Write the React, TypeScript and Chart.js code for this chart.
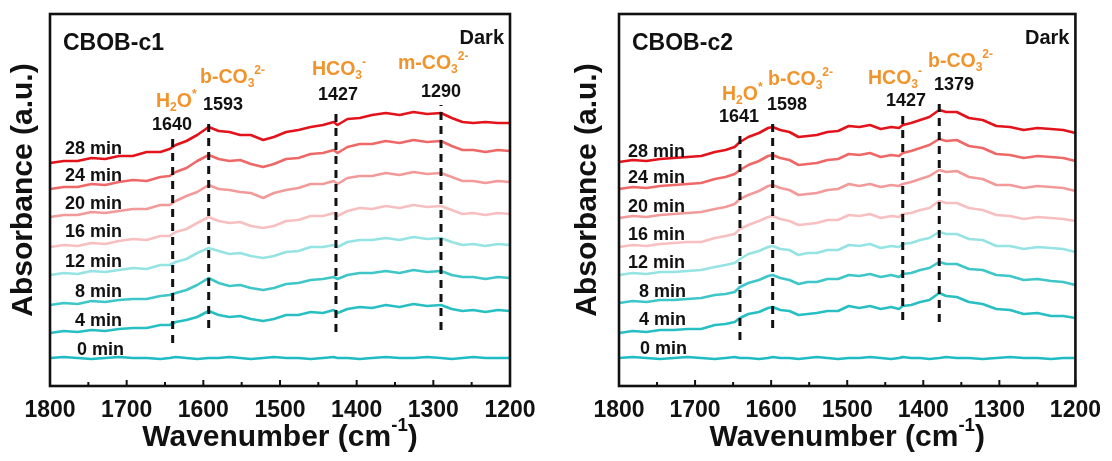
import React, { useEffect, useRef } from "react";
import { Chart, registerables } from "chart.js";

Chart.register(...registerables);

const FONT = '"Liberation Sans", Arial, Helvetica, sans-serif';
const ORANGE = "#f0952e";
const INK = "#111111";

// Spectra series, oldest first
const TIMES = ["0 min", "4 min", "8 min", "12 min", "16 min", "20 min", "24 min", "28 min"];
const COLORS = ["#20bcc4", "#28bfc3", "#3ec6c8", "#95e3e3", "#f7bfbf", "#f29a9a", "#ee6868", "#e3131b"];

// ---- CBOB-c1 ----
const C1_WAVENUMBER = [1800, 1782, 1764, 1746, 1728, 1710, 1692, 1674, 1656, 1644, 1636, 1622, 1608, 1593, 1580, 1566, 1552, 1538, 1522, 1508, 1492, 1476, 1460, 1444, 1430, 1425, 1412, 1396, 1380, 1362, 1344, 1326, 1308, 1290, 1276, 1262, 1248, 1232, 1216, 1200];
const C1_0 = [28, 29, 28, 27, 28, 29, 28, 28, 27, 28, 29, 28, 27, 28, 28, 29, 28, 27, 28, 29, 28, 28, 27, 28, 29, 28, 28, 27, 28, 29, 28, 28, 29, 28, 27, 28, 29, 28, 28, 28];
const C1_4 = [53, 55, 54, 56, 55, 57, 58, 58, 61, 61, 64, 66, 69, 75, 71, 69, 70, 67, 65, 67, 71, 71, 74, 73, 76, 73, 77, 79, 78, 81, 79, 82, 80, 81, 77, 75, 76, 74, 76, 75];
const C1_8 = [81, 83, 82, 85, 84, 86, 87, 87, 90, 91, 93, 96, 101, 108, 103, 100, 101, 98, 96, 98, 102, 103, 106, 107, 109, 107, 111, 113, 113, 115, 113, 116, 114, 115, 111, 109, 109, 107, 109, 108];
const C1_12 = [111, 113, 112, 115, 114, 116, 118, 117, 121, 121, 124, 127, 133, 138, 135, 132, 133, 130, 128, 130, 134, 135, 139, 139, 141, 139, 144, 146, 146, 148, 146, 149, 147, 148, 144, 141, 142, 140, 142, 141];
const C1_16 = [139, 141, 140, 143, 142, 145, 147, 146, 150, 150, 154, 157, 163, 169, 165, 163, 164, 160, 158, 160, 165, 166, 170, 170, 173, 170, 175, 178, 177, 180, 178, 181, 179, 180, 176, 172, 173, 171, 173, 172];
const C1_20 = [169, 171, 171, 174, 173, 175, 177, 177, 181, 181, 185, 190, 194, 201, 197, 196, 194, 193, 188, 193, 196, 198, 202, 202, 205, 202, 208, 210, 210, 213, 211, 214, 212, 213, 209, 205, 205, 203, 205, 204];
const C1_24 = [197, 199, 199, 202, 201, 204, 206, 205, 209, 210, 214, 218, 225, 231, 227, 225, 226, 222, 219, 222, 227, 228, 232, 233, 236, 233, 239, 242, 242, 245, 243, 246, 244, 245, 240, 236, 236, 234, 236, 235];
const C1_28 = [223, 225, 225, 228, 227, 230, 230, 234, 234, 237, 241, 245, 251, 259, 255, 254, 251, 251, 246, 249, 254, 256, 259, 261, 264, 261, 267, 268, 271, 273, 271, 274, 272, 273, 268, 264, 263, 264, 263, 263];
const C1_PEAKS = [1640, 1593, 1427, 1290];
const C1_PEAK_LOW = [43, 58, 54, 56];
const C1_PEAK_HIGH = [251, 264, 278, 281];

// ---- CBOB-c2 ----
const C2_WAVENUMBER = [1800, 1782, 1764, 1746, 1728, 1710, 1692, 1674, 1660, 1648, 1641, 1630, 1616, 1604, 1598, 1588, 1576, 1564, 1552, 1540, 1526, 1512, 1498, 1484, 1470, 1456, 1442, 1432, 1427, 1416, 1404, 1392, 1379, 1370, 1356, 1340, 1322, 1304, 1286, 1268, 1250, 1232, 1216, 1200];
const C2_0 = [28, 29, 28, 27, 28, 29, 28, 27, 28, 29, 28, 28, 27, 28, 29, 28, 28, 27, 28, 29, 28, 27, 28, 28, 29, 28, 27, 28, 29, 28, 28, 27, 28, 29, 28, 28, 27, 28, 29, 28, 28, 27, 28, 28];
const C2_4 = [53, 55, 54, 56, 56, 57, 57, 61, 62, 64, 68, 72, 74, 78, 79, 76, 75, 71, 72, 73, 75, 75, 80, 78, 80, 77, 79, 77, 80, 81, 84, 86, 93, 90, 89, 84, 82, 77, 76, 72, 73, 70, 70, 68];
const C2_8 = [83, 85, 84, 86, 86, 87, 88, 91, 92, 94, 99, 103, 106, 110, 111, 108, 106, 102, 104, 104, 107, 107, 111, 110, 112, 109, 111, 109, 112, 113, 116, 118, 124, 122, 122, 117, 116, 111, 110, 106, 107, 105, 104, 101];
const C2_12 = [111, 113, 112, 114, 114, 115, 116, 119, 121, 123, 127, 132, 135, 139, 140, 137, 136, 131, 133, 133, 136, 136, 141, 140, 142, 138, 140, 139, 142, 143, 146, 148, 154, 152, 152, 147, 146, 140, 140, 137, 139, 138, 137, 134];
const C2_16 = [139, 141, 140, 142, 143, 144, 144, 148, 150, 152, 157, 161, 165, 169, 170, 167, 165, 161, 162, 163, 166, 166, 171, 170, 172, 168, 170, 169, 172, 173, 176, 178, 185, 183, 183, 178, 176, 171, 170, 167, 169, 168, 167, 165];
const C2_20 = [168, 170, 169, 171, 172, 173, 174, 177, 179, 182, 187, 191, 195, 200, 201, 198, 196, 191, 192, 193, 196, 197, 202, 200, 202, 199, 201, 200, 202, 204, 207, 210, 216, 214, 215, 209, 207, 201, 201, 198, 200, 199, 198, 195];
const C2_24 = [197, 199, 198, 200, 201, 202, 203, 207, 209, 212, 216, 221, 225, 230, 231, 228, 226, 221, 222, 223, 226, 227, 232, 231, 233, 229, 231, 230, 233, 235, 238, 241, 247, 245, 246, 240, 238, 232, 231, 228, 230, 229, 228, 225];
const C2_28 = [224, 226, 225, 227, 228, 229, 230, 234, 236, 239, 244, 249, 253, 258, 259, 256, 254, 249, 250, 251, 254, 255, 260, 259, 261, 257, 259, 258, 261, 263, 266, 269, 276, 274, 274, 268, 266, 260, 259, 256, 258, 257, 256, 253];
const C2_PEAKS = [1641, 1598, 1427, 1379];
const C2_PEAK_LOW = [46, 58, 66, 64];
const C2_PEAK_HIGH = [254, 266, 271, 283];

const X_TICK_STEP = 100;

type Seg = { t: string; sub?: boolean; sup?: boolean };
type Rich = { segs: Seg[]; x: number; y: number };

const H2O: Seg[] = [{ t: "H" }, { t: "2", sub: true }, { t: "O" }, { t: "*", sup: true }];
const B_CO3: Seg[] = [{ t: "b-CO" }, { t: "3", sub: true }, { t: "2-", sup: true }];
const M_CO3: Seg[] = [{ t: "m-CO" }, { t: "3", sub: true }, { t: "2-", sup: true }];
const HCO3: Seg[] = [{ t: "HCO" }, { t: "3", sub: true }, { t: "-", sup: true }];

const PANELS = [
  {
    name: "CBOB-c1",
    xs: C1_WAVENUMBER,
    series: [C1_0, C1_4, C1_8, C1_12, C1_16, C1_20, C1_24, C1_28],
    peaks: C1_PEAKS,
    peakLow: C1_PEAK_LOW,
    peakHigh: C1_PEAK_HIGH,
    left: 0,
    padLeft: 50,
    padRight: 46,
    yTitleX: 24,
    titleX: 63,
    timePos: [[77, 350], [75, 321], [75, 292], [65, 262], [65, 232], [65, 204], [65, 176], [65, 149]],
    numberPos: [[172, 125], [223, 105], [338, 95], [441, 92]],
    species: [
      { segs: H2O, x: 156, y: 102 },
      { segs: B_CO3, x: 200, y: 78 },
      { segs: HCO3, x: 312, y: 70 },
      { segs: M_CO3, x: 398, y: 64 },
    ] as Rich[],
  },
  {
    name: "CBOB-c2",
    xs: C2_WAVENUMBER,
    series: [C2_0, C2_4, C2_8, C2_12, C2_16, C2_20, C2_24, C2_28],
    peaks: C2_PEAKS,
    peakLow: C2_PEAK_LOW,
    peakHigh: C2_PEAK_HIGH,
    left: 556,
    padLeft: 63,
    padRight: 33,
    yTitleX: 32,
    titleX: 76,
    timePos: [[84, 349], [83, 320], [83, 292], [72, 263], [72, 235], [72, 207], [72, 178], [72, 152]],
    numberPos: [[183, 117], [231, 105], [350, 101], [398, 85]],
    species: [
      { segs: H2O, x: 166, y: 95 },
      { segs: B_CO3, x: 212, y: 80 },
      { segs: HCO3, x: 312, y: 79 },
      { segs: B_CO3, x: 372, y: 62 },
    ] as Rich[],
  },
];

function richWidth(ctx: CanvasRenderingContext2D, segs: Seg[], size: number) {
  let w = 0;
  for (const s of segs) {
    const fs = s.sub || s.sup ? size * 0.62 : size;
    ctx.font = `bold ${fs}px ${FONT}`;
    w += ctx.measureText(s.t).width;
  }
  return w;
}

function drawRich(ctx: CanvasRenderingContext2D, segs: Seg[], x: number, y: number, size: number) {
  let cx = x;
  for (const s of segs) {
    const small = s.sub || s.sup;
    const fs = small ? size * 0.62 : size;
    ctx.font = `bold ${fs}px ${FONT}`;
    const dy = s.sub ? size * 0.3 : s.sup ? -size * 0.4 : 0;
    ctx.fillText(s.t, cx, y + dy);
    cx += ctx.measureText(s.t).width;
  }
}

function decorations(cfg: any) {
  return {
    id: "decor",
    afterDraw(chart: any) {
      const { ctx, chartArea: a } = chart;
      const xScale = chart.scales.x;
      ctx.save();

      // frame
      ctx.strokeStyle = INK;
      ctx.lineWidth = 2.6;
      ctx.setLineDash([]);
      ctx.strokeRect(a.left, a.top, a.right - a.left, a.bottom - a.top);

      // inward tick marks: majors from the axis, minors halfway between
      const majors: number[] = xScale.ticks.map((t: any) => t.value);
      ctx.lineWidth = 2;
      majors.forEach((v, i) => {
        const px = xScale.getPixelForValue(v);
        ctx.beginPath();
        ctx.moveTo(px, a.bottom);
        ctx.lineTo(px, a.bottom - 6);
        ctx.stroke();
        if (i < majors.length - 1) {
          const mx = xScale.getPixelForValue((v + majors[i + 1]) / 2);
          ctx.beginPath();
          ctx.moveTo(mx, a.bottom);
          ctx.lineTo(mx, a.bottom - 4);
          ctx.stroke();
        }
      });

      ctx.textBaseline = "middle";
      ctx.fillStyle = INK;

      // panel title and condition
      ctx.textAlign = "left";
      ctx.font = `bold 23px ${FONT}`;
      ctx.fillText(cfg.name, cfg.titleX, 44);
      ctx.textAlign = "right";
      ctx.font = `bold 20px ${FONT}`;
      ctx.fillText("Dark", a.right - 6, 38);

      // time labels
      ctx.textAlign = "left";
      ctx.font = `bold 18px ${FONT}`;
      TIMES.forEach((t, i) => {
        const [x, y] = cfg.timePos[i];
        ctx.fillText(t, x, y);
      });

      // peak positions
      ctx.textAlign = "center";
      ctx.font = `bold 18px ${FONT}`;
      cfg.peaks.forEach((p: number, i: number) => {
        const [x, y] = cfg.numberPos[i];
        ctx.fillText(String(p), x, y);
      });

      // adsorbed species
      ctx.textAlign = "left";
      ctx.fillStyle = ORANGE;
      cfg.species.forEach((s: Rich) => drawRich(ctx, s.segs, s.x, s.y, 19.5));

      // axis titles
      ctx.fillStyle = INK;
      const xTitle: Seg[] = [{ t: "Wavenumber (cm" }, { t: "-1", sup: true }, { t: ")" }];
      const tw = richWidth(ctx, xTitle, 30);
      drawRich(ctx, xTitle, (a.left + a.right) / 2 - tw / 2, 438, 30);

      ctx.save();
      ctx.translate(cfg.yTitleX, 190);
      ctx.rotate(-Math.PI / 2);
      ctx.textAlign = "center";
      ctx.font = `bold 30px ${FONT}`;
      ctx.fillText("Absorbance (a.u.)", 0, 0);
      ctx.restore();

      ctx.restore();
    },
  };
}

function SpectraPanel({ cfg }: { cfg: any }) {
  const ref = useRef<HTMLCanvasElement>(null);
  useEffect(() => {
    const canvas = ref.current;
    if (!canvas) return;
    const datasets: any[] = [];
    cfg.series.forEach((ys: number[], i: number) => {
      datasets.push({
        label: TIMES[i],
        data: cfg.xs.map((x: number, j: number) => ({ x, y: ys[j] })),
        borderColor: COLORS[i],
        borderWidth: 2.6,
        pointRadius: 0,
        tension: 0,
        borderJoinStyle: "round",
        order: 1,
      });
    });
    cfg.peaks.forEach((p: number, i: number) => {
      datasets.push({
        label: String(p),
        data: [
          { x: p, y: cfg.peakLow[i] },
          { x: p, y: cfg.peakHigh[i] },
        ],
        borderColor: INK,
        borderWidth: 3,
        borderDash: [8, 6],
        pointRadius: 0,
        order: 0,
      });
    });
    const chart = new Chart(canvas, {
      type: "line",
      data: { datasets },
      options: {
        animation: false,
        responsive: false,
        devicePixelRatio: 1,
        events: [],
        layout: { padding: { left: cfg.padLeft, right: cfg.padRight, top: 14, bottom: 0 } },
        plugins: { legend: { display: false }, tooltip: { enabled: false } },
        scales: {
          x: {
            type: "linear",
            min: 1200,
            max: 1800,
            reverse: true,
            afterFit: (s: any) => {
              s.height = 75;
            },
            grid: { display: false, drawTicks: false },
            border: { display: false },
            ticks: {
              stepSize: X_TICK_STEP,
              autoSkip: false,
              maxRotation: 0,
              padding: 11,
              color: INK,
              font: { family: FONT, size: 23, weight: "bold" },
              callback: (v: any) => String(v),
            },
          },
          y: { display: false, min: 0, max: 372 },
        },
      } as any,
      plugins: [decorations(cfg)],
    });
    return () => chart.destroy();
  }, [cfg]);
  return (
    <canvas
      ref={ref}
      width={556}
      height={461}
      style={{ position: "absolute", left: cfg.left, top: 0, width: 556, height: 461 }}
    />
  );
}

export default function App() {
  return (
    <div style={{ position: "absolute", left: 0, top: 0, width: 1112, height: 461, background: "#ffffff", overflow: "hidden" }}>
      {PANELS.map((p) => (
        <SpectraPanel key={p.name} cfg={p} />
      ))}
    </div>
  );
}
